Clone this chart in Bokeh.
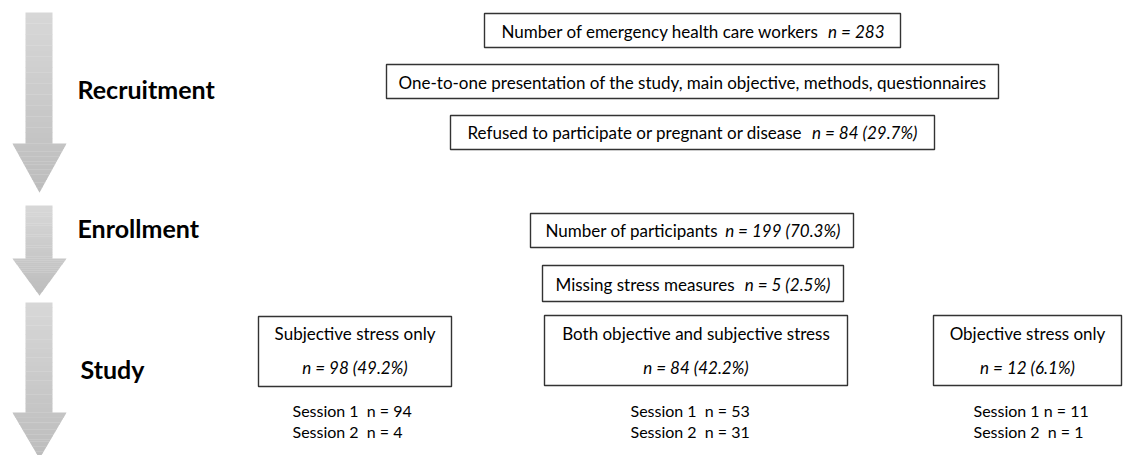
import numpy as np
from bokeh.plotting import figure
from bokeh.models import Range1d
from bokeh.core.properties import value
from bokeh.embed import file_html
from bokeh.resources import INLINE

# ---------------- data (texts / counts) ----------------
stages = ["Recruitment", "Enrollment", "Study"]
box_labels = [
    "Number of emergency health care workers",
    "One-to-one presentation of the study, main objective, methods, questionnaires",
    "Refused to participate or pregnant or disease",
    "Number of participants",
    "Missing stress measures",
]
box_counts = ["n = 283", "", "n = 84 (29.7%)", "n = 199 (70.3%)", "n = 5 (2.5%)"]
group_labels = ["Subjective stress only", "Both objective and subjective stress", "Objective stress only"]
group_counts = ["n = 98 (49.2%)", "n = 84 (42.2%)", "n = 12 (6.1%)"]
session1 = ["Session 1\u00a0 n = 94", "Session 1\u00a0 n = 53", "Session 1 n = 11"]
session2 = ["Session 2\u00a0 n = 4", "Session 2\u00a0 n = 31", "Session 2\u00a0 n = 1"]

# ---------------- layout (page pixel coordinates) ----------------
stage_pos = [(77, 88), (77, 227), (80, 368)]
arrow_geo = [(12, 143, 192), (205, 258, 295), (302, 412, 458)]  # shaft top, head start, tip
shaft_x = (25, 52)
head_x = (12, 66)
box_geo = [(484, 900, 13, 47), (386, 998, 64, 98), (450, 934, 115, 149),
           (530, 853, 213, 247), (542, 843, 265, 301)]
box_text_y = [31, 82, 132, 230, 284]
box_text_x0 = [501, 398, 467, 545, 555]
box_count_x1 = [884, None, 917, 840, 830]
group_geo = [(258, 451, 316, 386), (544, 847, 315, 385), (933, 1121, 315, 385)]
group_y = (333, 367)
session_x = [292, 630, 973]
session_y = (410, 431)

FONT = value("Lato")
FS = "17px"
FS_SESSION = "16px"

p = figure(width=1125, height=455, output_backend="svg", toolbar_location=None,
           x_range=Range1d(0, 1125), y_range=Range1d(455, 0),
           x_axis_type=None, y_axis_type=None, min_border=0,
           outline_line_color=None, background_fill_color="white",
           border_fill_color="white")
p.grid.visible = False

# ---------------- gradient arrows ----------------
def lerp_color(t):
    c0 = np.array([0xd8, 0xd8, 0xd8])
    c1 = np.array([0xbd, 0xbd, 0xbd])
    c = (c0 + (c1 - c0) * t).astype(int)
    return "#%02x%02x%02x" % tuple(c)

xs, ys, cols = [], [], []
cx = (head_x[0] + head_x[1]) / 2
half = (head_x[1] - head_x[0]) / 2
for top, hs, tip in arrow_geo:
    sy = np.linspace(top, hs, 25)
    for a, b in zip(sy[:-1], sy[1:]):
        xs.append([shaft_x[0], shaft_x[1], shaft_x[1], shaft_x[0]])
        ys.append([a, a, b + 0.3, b + 0.3])
        cols.append(lerp_color(((a + b) / 2 - top) / (tip - top)))
    hy = np.linspace(hs, tip, 20)
    for a, b in zip(hy[:-1], hy[1:]):
        wa = half * (tip - a) / (tip - hs)
        wb = half * (tip - b) / (tip - hs)
        xs.append([cx - wa, cx + wa, cx + wb, cx - wb])
        ys.append([a, a, b + 0.3, b + 0.3])
        cols.append(lerp_color(((a + b) / 2 - top) / (tip - top)))
p.patches(xs, ys, fill_color=cols, line_color=None)

# ---------------- stage labels ----------------
p.text(x=[s[0] for s in stage_pos], y=[s[1] for s in stage_pos], text=stages,
       text_font=FONT, text_font_style="bold", text_font_size="25px",
       text_align="left", text_baseline="middle", text_color="black")

# ---------------- top boxes ----------------
for (l, r, t, b) in box_geo:
    p.quad(left=l, right=r, top=t, bottom=b, fill_color="white",
           line_color="#333333", line_width=1.4)

for i, lab in enumerate(box_labels):
    if box_counts[i]:
        p.text(x=[box_text_x0[i]], y=[box_text_y[i]], text=[lab], text_font=FONT,
               text_font_size=FS, text_align="left", text_baseline="middle", text_color="black")
        p.text(x=[box_count_x1[i]], y=[box_text_y[i]], text=[box_counts[i]], text_font=FONT,
               text_font_size=FS, text_font_style="italic", text_align="right",
               text_baseline="middle", text_color="black")
    else:
        l, r, t, b = box_geo[i]
        p.text(x=[(l + r) / 2], y=[box_text_y[i]], text=[lab], text_font=FONT,
               text_font_size=FS, text_align="center", text_baseline="middle", text_color="black")

# ---------------- group boxes ----------------
for (l, r, t, b) in group_geo:
    p.quad(left=l, right=r, top=t, bottom=b, fill_color="white",
           line_color="#333333", line_width=1.4)
gcx = [(g[0] + g[1]) / 2 for g in group_geo]
p.text(x=gcx, y=[group_y[0]] * 3, text=group_labels, text_font=FONT, text_font_size=FS,
       text_align="center", text_baseline="middle", text_color="black")
p.text(x=gcx, y=[group_y[1]] * 3, text=group_counts, text_font=FONT, text_font_size=FS,
       text_font_style="italic", text_align="center", text_baseline="middle", text_color="black")

p.text(x=session_x, y=[session_y[0]] * 3, text=session1, text_font=FONT, text_font_size=FS_SESSION,
       text_align="left", text_baseline="middle", text_color="black")
p.text(x=session_x, y=[session_y[1]] * 3, text=session2, text_font=FONT, text_font_size=FS_SESSION,
       text_align="left", text_baseline="middle", text_color="black")

open("out.html", "w").write(file_html(p, INLINE))
